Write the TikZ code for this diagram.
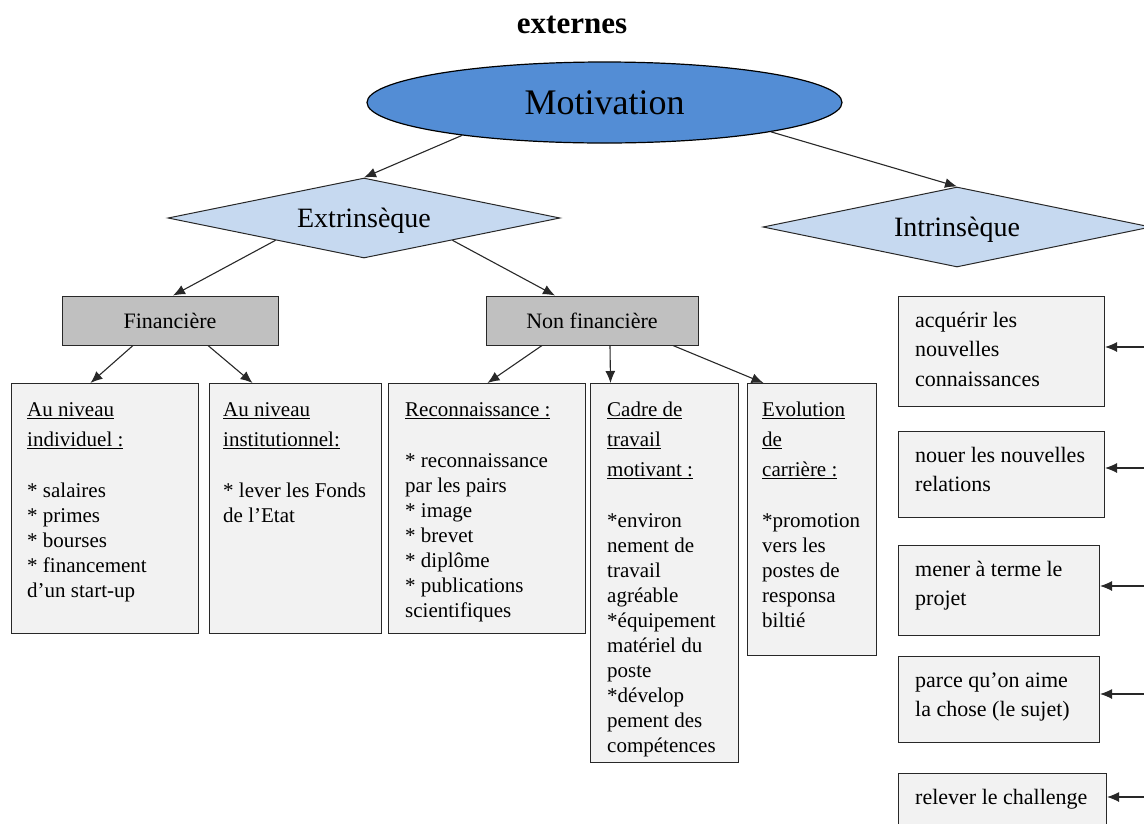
\documentclass[tikz,border=0pt]{standalone}
\usepackage{fontspec}
\setmainfont{Liberation Serif}
\usetikzlibrary{arrows.meta,calc,positioning,shapes.geometric}
\definecolor{motivblue}{RGB}{83,141,213}
\definecolor{levelblue}{RGB}{198,217,240}
\definecolor{kindgray}{RGB}{192,192,192}
\definecolor{leafgray}{RGB}{242,242,242}
\definecolor{edgegray}{RGB}{40,40,40}

\begin{document}
\begin{tikzpicture}[x=1pt, y=-1pt, >={Latex[length=12pt,width=10pt]},
  link/.style={->, draw=edgegray, line width=1.1pt},
  level/.style={diamond, aspect=4.9, draw=edgegray, line width=1pt,
    fill=levelblue, inner sep=0pt, text depth=0pt,
    font=\fontsize{28}{30}\selectfont},
  kindbox/.style={draw=edgegray, line width=1pt, fill=kindgray,
    minimum height=49pt, inner sep=0pt, font=\fontsize{22}{26}\selectfont},
  leafbox/.style={draw=edgegray, line width=1pt, fill=leafgray,
    anchor=north west, inner sep=0pt},
  leaftext/.style={anchor=north west, align=left, inner sep=0pt,
    font=\fontsize{21}{25}\selectfont},
  goaltext/.style={anchor=north west, align=left, inner sep=0pt,
    font=\fontsize{22}{29.5}\selectfont}]

\useasboundingbox (0,0) rectangle (1144,823);

% =====================================================================
% Top of the tree: title, root ellipse and the two kinds of motivation
% =====================================================================
\node[anchor=base, font=\fontsize{31}{31}\bfseries] (title) at (572,33) {externes};

\node[ellipse, draw=black, line width=1.2pt, fill=motivblue,
      minimum width=475pt, minimum height=81pt, inner sep=0pt,
      font=\fontsize{36}{38}\selectfont]
  (motiv) at (604.5,102.5) {Motivation};

\node[level, minimum width=392pt, minimum height=80pt] (extr) at (364,218) {Extrinsèque};
\node[level, minimum width=388pt, minimum height=80pt] (intr) at (957,227) {Intrinsèque};

\draw[link] (motiv.193.2) -- (extr.north);
\draw[link] (motiv.350.9) -- (intr.north);

% --- financial / non financial ---
\node[kindbox, minimum width=216pt] (fin) at (170,320.5) {Financière};
\node[kindbox, minimum width=212pt] (nonfin) at (592,320.5) {Non financière};

\draw[link] ($(extr.west)!0.55!(extr.south)$) -- ([xshift=3pt]fin.north);
\draw[link] ($(extr.south)!0.45!(extr.east)$) -- ([xshift=-37pt]nonfin.north);

% =====================================================================
% Extrinsic leaves (box first, then its text from the top left corner)
% =====================================================================
\node[leafbox, minimum width=187pt, minimum height=250pt] (indiv) at (11,383) {};
\node[leaftext] (indivtxt) at ([xshift=16pt, yshift=-15.5pt]indiv.north west) {%
  \strut\underline{Au niveau}\\[5pt]
  \underline{individuel :}\\[26pt]
  {*} salaires\\
  {*} primes\\
  {*} bourses\\
  {*} financement\\
  d’un start-up};

\node[leafbox, minimum width=172pt, minimum height=250pt] (inst) at (209,383) {};
\node[leaftext] (insttxt) at ([xshift=14pt, yshift=-15.5pt]inst.north west) {%
  \strut\underline{Au niveau}\\[5pt]
  \underline{institutionnel:}\\[26pt]
  {*} lever les Fonds\\
  de l’Etat};

\node[leafbox, minimum width=197pt, minimum height=250pt] (recon) at (388,383) {};
\node[leaftext] (recontxt) at ([xshift=17pt, yshift=-15.5pt]recon.north west) {%
  \strut\underline{Reconnaissance :}\\[26pt]
  {*} reconnaissance\\
  par les pairs\\
  {*} image\\
  {*} brevet\\
  {*} diplôme\\
  {*} publications\\
  scientifiques};

\node[leafbox, minimum width=148pt, minimum height=379pt] (cadre) at (590,383) {};
\node[leaftext] (cadretxt) at ([xshift=17pt, yshift=-15.5pt]cadre.north west) {%
  \strut\underline{Cadre de}\\[5pt]
  \underline{travail}\\[5pt]
  \underline{motivant :}\\[26pt]
  {*}environ\\
  nement de\\
  travail\\
  agréable\\
  {*}équipement\\
  matériel du\\
  poste\\
  {*}dévelop\\
  pement des\\
  compétences};

\node[leafbox, minimum width=129pt, minimum height=272pt] (evol) at (747,383) {};
\node[leaftext] (evoltxt) at ([xshift=15pt, yshift=-15.5pt]evol.north west) {%
  \strut\underline{Evolution}\\[5pt]
  \underline{de}\\[5pt]
  \underline{carrière :}\\[26pt]
  {*}promotion\\
  vers les\\
  postes de\\
  responsa\\
  biltié};

\draw[link] ([xshift=-37pt]fin.south) -- ([xshift=-14.5pt]indiv.north);
\draw[link] ([xshift=38pt]fin.south) -- ([xshift=-43pt]inst.north);
\draw[link] ([xshift=-50pt]nonfin.south) -- ([xshift=0.5pt]recon.north);
\draw[link] ([xshift=18pt]nonfin.south) -- ([xshift=-54pt]cadre.north);
\draw[link] ([xshift=81pt]nonfin.south) -- ([xshift=-48.5pt]evol.north);

% =====================================================================
% Intrinsic goals, fed from the right edge
% =====================================================================
\node[leafbox, minimum width=206pt, minimum height=110pt] (acq) at (898,296) {};
\node[goaltext] (acqtxt) at ([xshift=17pt, yshift=-10.5pt]acq.north west) {%
  \strut acquérir les\\ nouvelles\\ connaissances};

\node[leafbox, minimum width=206pt, minimum height=86pt] (nouer) at (898,431) {};
\node[goaltext] (nouertxt) at ([xshift=17pt, yshift=-10.5pt]nouer.north west) {%
  \strut nouer les nouvelles\\ relations};

\node[leafbox, minimum width=201pt, minimum height=90pt] (mener) at (898,545) {};
\node[goaltext] (menertxt) at ([xshift=17pt, yshift=-10.5pt]mener.north west) {%
  \strut mener à terme le\\ projet};

\node[leafbox, minimum width=201pt, minimum height=86pt] (parce) at (898,656) {};
\node[goaltext] (parcetxt) at ([xshift=17pt, yshift=-10.5pt]parce.north west) {%
  \strut parce qu’on aime\\ la chose (le sujet)};

\node[leafbox, minimum width=208pt, minimum height=60pt] (relever) at (898,773) {};
\node[goaltext] (relevertxt) at ([xshift=17pt, yshift=-10.5pt]relever.north west) {%
  \strut relever le challenge};

\coordinate (in1) at (1144,347);
\coordinate (in2) at (1144,468);
\coordinate (in3) at (1144,586);
\coordinate (in4) at (1144,694);
\coordinate (in5) at (1144,797);
\draw[link] (in1) -- (in1 -| acq.east);
\draw[link] (in2) -- (in2 -| nouer.east);
\draw[link] (in3) -- (in3 -| mener.east);
\draw[link] (in4) -- (in4 -| parce.east);
\draw[link] (in5) -- (in5 -| relever.east);

\end{tikzpicture}
\end{document}
